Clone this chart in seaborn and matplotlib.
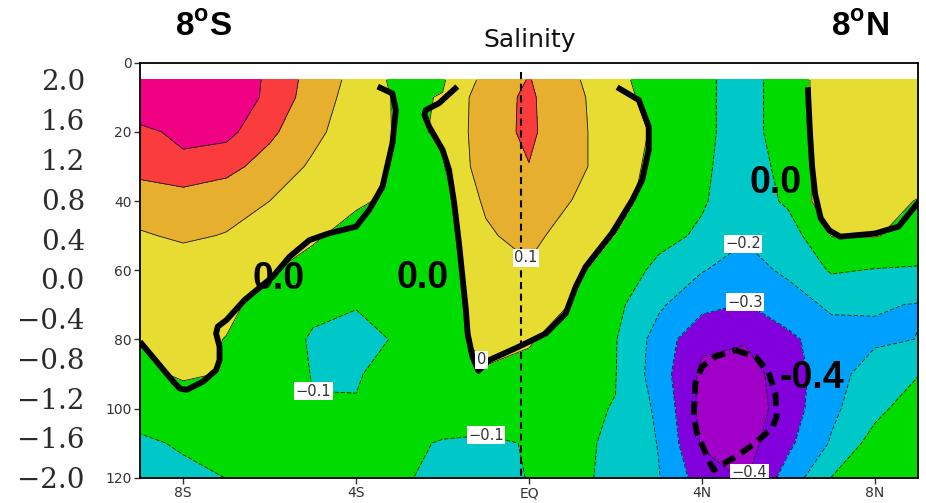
import numpy as np
import matplotlib
matplotlib.use('Agg')
import matplotlib.pyplot as plt
import seaborn as sns

# ---- salinity anomaly field (lon in deg, depth in m) ----
lons = [-9, -8, -7, -6, -5, -4, -3, -2, -1, 0, 1, 2, 3, 4, 5, 6, 7, 8, 9]
depths = [5, 10, 20, 30, 40, 50, 60, 70, 80, 90, 100, 110, 120]

row_5m = [0.45, 0.44, 0.38, 0.28, 0.16, 0.07, -0.03, -0.01, 0.13, 0.205, 0.12, 0.014, -0.026, -0.085, -0.13, -0.06, 0.06, 0.07, 0.07]
row_10m = [0.45, 0.44, 0.38, 0.275, 0.15, 0.06, -0.015, 0.004, 0.16, 0.215, 0.125, 0.045, -0.05, -0.085, -0.13, -0.06, 0.06, 0.07, 0.07]
row_20m = [0.26, 0.34, 0.33, 0.22, 0.125, 0.045, -0.01, 0.005, 0.165, 0.215, 0.14, 0.03, -0.01, -0.085, -0.13, -0.06, 0.05, 0.07, 0.07]
row_30m = [0.23, 0.26, 0.23, 0.16, 0.085, 0.035, -0.01, -0.008, 0.16, 0.198, 0.14, 0.03, -0.02, -0.08, -0.16, -0.06, 0.05, 0.07, 0.06]
row_40m = [0.15, 0.16, 0.14, 0.10, 0.065, 0.015, -0.025, -0.04, 0.12, 0.17, 0.098, 0.02, -0.025, -0.09, -0.16, -0.083, 0.07, 0.04, -0.005]
row_50m = [0.09, 0.115, 0.095, 0.07, 0.015, -0.04, -0.06, -0.04, 0.08, 0.15, 0.02, -0.001, -0.07, -0.115, -0.19, -0.15, 0.003, 0.005, -0.03]
row_60m = [0.05, 0.045, 0.03, 0.008, -0.04, -0.07, -0.075, -0.03, 0.045, 0.08, 0.02, -0.04, -0.125, -0.195, -0.24, -0.18, -0.09, -0.105, -0.11]
row_70m = [0.04, 0.04, 0.015, -0.025, -0.08, -0.095, -0.09, -0.04, 0.04, 0.06, -0.005, -0.075, -0.185, -0.27, -0.305, -0.25, -0.18, -0.19, -0.205]
row_80m = [0.005, 0.02, -0.002, -0.05, -0.11, -0.13, -0.09, -0.035, 0.03, 0.01, -0.05, -0.095, -0.24, -0.38, -0.39, -0.32, -0.25, -0.22, -0.198]
row_90m = [-0.025, 0.015, -0.006, -0.06, -0.103, -0.105, -0.075, -0.04, -0.01, -0.03, -0.06, -0.097, -0.25, -0.42, -0.45, -0.34, -0.25, -0.14, -0.105]
row_100m = [-0.06, -0.06, -0.06, -0.07, -0.097, -0.096, -0.075, -0.06, -0.05, -0.06, -0.09, -0.102, -0.22, -0.43, -0.46, -0.35, -0.22, -0.13, -0.04]
row_110m = [-0.115, -0.09, -0.075, -0.07, -0.07, -0.075, -0.085, -0.105, -0.115, -0.095, -0.096, -0.103, -0.205, -0.41, -0.44, -0.32, -0.19, -0.06, -0.03]
row_120m = [-0.14, -0.12, -0.099, -0.08, -0.07, -0.07, -0.09, -0.12, -0.12, -0.098, -0.09, -0.11, -0.195, -0.35, -0.41, -0.26, -0.098, -0.06, -0.03]

levels = [-0.4, -0.3, -0.2, -0.1, 0.0, 0.1, 0.2, 0.3]
shade_colors = ['#A000C8', '#8200DC', '#00A0FF', '#00C8C8', '#00DC00',
                '#E6DC32', '#E6AF2D', '#FA3C3C', '#F00082']

# overlaid thick contours (0.0 and -0.4)
zero_west_lon = [-3.5, -3.16, -3.08, -3.16, -3.39, -3.7, -4.0, -4.62, -5.08, -5.54, -5.93, -6.58, -7.0,
                 -7.2, -7.24, -7.16, -7.16, -7.24, -7.54, -7.92, -8.08, -8.23, -9.0]
zero_west_depth = [6.9, 8.9, 13.7, 23.3, 35.9, 42.6, 47.4, 49.3, 51.3, 56.1, 61.9, 68.6, 74.4,
                   76.3, 78.3, 82.1, 86.0, 88.9, 92.2, 94.6, 94.2, 92.2, 80.7]
zero_mid_lon = [-1.66, -2.08, -2.39, -2.42, -2.31, -2.0, -1.85, -1.73, -1.62, -1.46, -1.42, -1.31, -1.17,
                -0.92, -0.23, 0.39, 0.85, 1.08, 1.31, 1.92, 2.39, 2.62, 2.77, 2.77, 2.54, 2.04]
zero_mid_depth = [6.9, 11.7, 13.7, 15.1, 18.5, 25.2, 31.0, 40.7, 52.2, 71.5, 78.3, 85.0, 89.1,
                  86.0, 82.1, 78.3, 72.5, 64.8, 59.0, 49.3, 39.7, 33.9, 25.2, 18.5, 10.8, 7.1]
zero_east_lon = [6.45, 6.5, 6.55, 6.62, 6.75, 6.95, 7.2, 8.0, 8.55, 9.05]
zero_east_depth = [7.1, 20.0, 30.0, 38.0, 45.0, 48.5, 50.3, 49.4, 47.4, 39.7]
minus04_lon = [4.77, 5.24, 5.54, 5.7, 5.73, 5.62, 5.23, 4.85, 4.39, 4.27, 4.12, 3.89, 3.81, 3.85, 4.0, 4.31, 4.77]
minus04_depth = [83.1, 85.0, 89.4, 95.6, 102.4, 105.7, 110.0, 113.4, 116.8, 117.8, 113.9, 107.2, 102.4, 92.7, 87.9, 85.0, 83.1]

eq_line_lon = -0.18
eq_line_top = 2.6

x_ticks = [-8, -4, 0, 4, 8]
x_tick_labels = ['8S', '4S', 'EQ', '4N', '8N']
y_ticks = [0, 20, 40, 60, 80, 100, 120]
left_scale_ticks = [2.0, 1.6, 1.2, 0.8, 0.4, 0.0, -0.4, -0.8, -1.2, -1.6, -2.0]

# where GrADS put its contour labels
label_spots = {-0.4: [(4.97, 118)], -0.3: [(4.97, 67.5)], -0.2: [(4.97, 52.7)],
               -0.1: [(-5.0, 99.3), (-1.0, 103.8)], 0.0: [(-1.0, 85)], 0.1: [(-0.05, 56)]}

# ---- style ----
sns.set_theme(style='ticks')
plt.rcParams['font.family'] = ['DejaVu Sans']
plt.rcParams['text.color'] = 'black'
plt.rcParams['mathtext.fontset'] = 'custom'
plt.rcParams['mathtext.rm'] = 'Liberation Sans:bold'
plt.rcParams['mathtext.bf'] = 'Liberation Sans:bold'

fig = plt.figure(figsize=(9.26, 5.03), dpi=100)
ax = fig.add_axes([140 / 926, 25.3 / 503, 778 / 926, 415 / 503])
ax.set_xlim(-9, 9)
ax.set_ylim(120, 0)

field = np.array([row_5m, row_10m, row_20m, row_30m, row_40m, row_50m, row_60m,
                  row_70m, row_80m, row_90m, row_100m, row_110m, row_120m])

ax.contourf(lons, depths, field, levels=[-9] + levels + [9], colors=shade_colors)

fmt = lambda v: ('%g' % v).replace('-', '\u2212')
for lev in levels:
    cs = ax.contour(lons, depths, field, levels=[lev], colors='k', linewidths=0.6,
                    negative_linestyles=(0, (5, 2.5)))
    if lev in label_spots:
        texts = ax.clabel(cs, manual=label_spots[lev], inline=False, fmt=fmt,
                          fontsize=10.5, colors='#333333')
        for t in texts:
            t.set_rotation(0)
            t.set_bbox(dict(boxstyle='square,pad=0.1', fc='white', ec='none'))
            t.set_zorder(6)

# thick overlay contours
for lo, de in [(zero_west_lon, zero_west_depth), (zero_mid_lon, zero_mid_depth),
               (zero_east_lon, zero_east_depth)]:
    sns.lineplot(x=lo, y=de, sort=False, estimator=None, color='black', linewidth=4.2,
                 solid_capstyle='butt', solid_joinstyle='round', ax=ax, zorder=4)
sns.lineplot(x=minus04_lon, y=minus04_depth, sort=False, estimator=None, color='black',
             linewidth=4.2, linestyle=(0, (2.3, 1.3)), ax=ax, zorder=4)

ax.vlines(eq_line_lon, eq_line_top, 120, colors='black', linewidth=1.5,
          linestyles=(0, (3.4, 2.2)), zorder=4)

big = dict(fontsize=27, fontweight='bold', family='Liberation Sans', color='black',
           ha='center', va='center', zorder=5)
ax.text(-5.8, 62.6, '0.0', **big)
ax.text(-2.46, 62.4, '0.0', **big)
ax.text(5.7, 34.9, '0.0', **big)
ax.text(6.54, 91.3, '-0.4', **big)

ax.set_xlim(-9, 9)
ax.set_ylim(120, 0)
ax.set_xlabel('')
ax.set_ylabel('')
ax.set_xticks(x_ticks, x_tick_labels)
ax.set_yticks(y_ticks)
ax.tick_params(direction='out', length=4, width=1, color='#333333', labelsize=10,
               labelcolor='#333333', pad=2)
for s in ax.spines.values():
    s.set_color('black')
    s.set_linewidth(1.3)
    s.set_visible(True)

# left-hand scale
ax2 = ax.twinx()
ax2.set_ylim(-2.0, 2.0 + 4.0 * 5 / 115)
ax2.yaxis.tick_left()
ax2.set_yticks(left_scale_ticks, [('%.1f' % v).replace('-', '\u2212') for v in left_scale_ticks])
ax2.tick_params(axis='y', length=0, pad=39.6, labelsize=20, labelcolor='#2b2b2b')
for lab in ax2.get_yticklabels():
    lab.set_fontfamily('DejaVu Serif')
for s in ax2.spines.values():
    s.set_visible(False)

# titles
fig.text(530 / 926, 1 - 46.7 / 503, 'Salinity', ha='center', va='baseline', fontsize=18, color='#111111')
fig.text(203 / 926, 1 - 36 / 503, r'8$^{\mathbf{o}}$S', ha='center', va='baseline', fontsize=24,
         fontweight='bold', family='Liberation Sans', color='black')
fig.text(860 / 926, 1 - 36 / 503, r'8$^{\mathbf{o}}$N', ha='center', va='baseline', fontsize=24,
         fontweight='bold', family='Liberation Sans', color='black')

fig.savefig('out.png', dpi=100)
